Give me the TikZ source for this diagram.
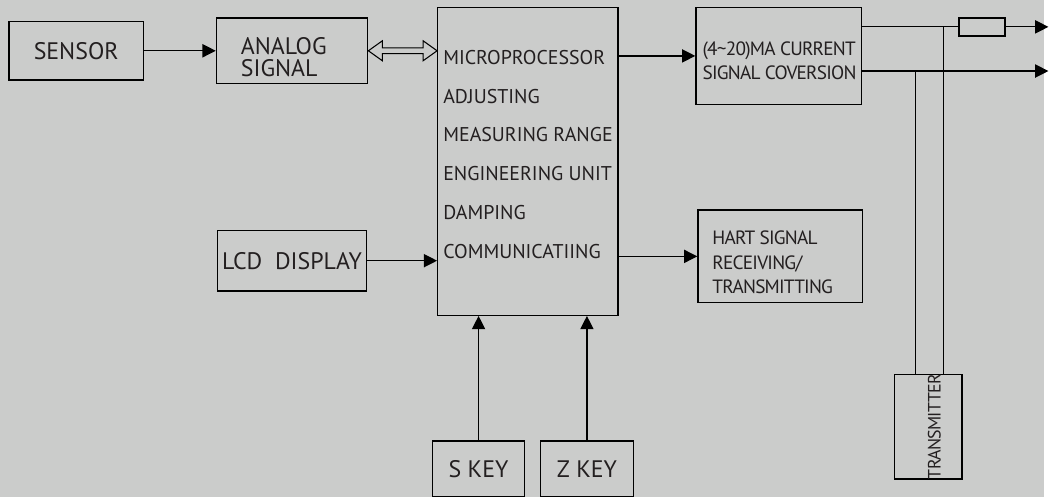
\documentclass[tikz,border=0pt]{standalone}
\usepackage{fontspec}
\setmainfont{PT Sans}
\newfontfamily\condfont[LetterSpace=-4.0]{PT Sans}
\usepackage{xcolor}
\usetikzlibrary{arrows.meta,positioning,backgrounds}
\definecolor{paper}{RGB}{203,204,203}
\definecolor{ink}{RGB}{35,31,32}

\begin{document}
\begin{tikzpicture}[
  bigtxt/.style={inner sep=0pt,text=ink,font={\fontsize{18}{16.5}\selectfont}},
  midtxt/.style={inner sep=0pt,text=ink,align=left,font={\fontsize{15}{29.25}\selectfont}},
  condtxt/.style={inner sep=0pt,text=ink,align=left,font={\condfont\fontsize{14.5}{18.6}\selectfont}},
  box/.style={rectangle,draw,line width=1pt,bigtxt},
  arrow/.style={-{Triangle[length=10pt,width=10pt]},line width=0.9pt},
  hollow/.style={line width=0.8pt,line join=miter,fill=paper},
  wire/.style={line width=0.9pt},
]
\node[box,minimum width=101.25pt,minimum height=44.25pt] (sensor) {SENSOR};
\node[box,minimum width=114pt,minimum height=49.5pt,right=54pt of sensor,
  label={[bigtxt,anchor=west,align=left,xshift=18.75pt,yshift=-4.9pt]west:{ANALOG\\SIGNAL}}] (analog) {};
\node[box,minimum width=135.75pt,minimum height=231.75pt,right=51.75pt of analog.east,anchor=north west,yshift=33pt,
  label={[midtxt,anchor=north west,xshift=4.5pt,yshift=-32.25pt]north west:{MICROPROCESSOR\\ADJUSTING\\MEASURING RANGE\\ENGINEERING UNIT\\DAMPING\\COMMUNICATIING}}] (micro) {};
\node[box,minimum width=124.5pt,minimum height=72.75pt,right=57.75pt of micro.north east,anchor=north west,
  label={[condtxt,xshift=0.75pt,yshift=-3.75pt]center:{(4\textasciitilde20)MA CURRENT\\SIGNAL COVERSION}}] (conv) {};
\node[box,minimum width=123.75pt,minimum height=69.75pt,below=78.75pt of conv.south west,anchor=north west,xshift=1.5pt,
  label={[condtxt,anchor=west,xshift=11.25pt,yshift=-4.5pt]west:{HART SIGNAL\\RECEIVING/\\TRANSMITTING}}] (hart) {};
\node[box,minimum width=112.5pt,minimum height=45.75pt,below=109.5pt of analog] (lcd) {LCD~~DISPLAY};
\node[box,minimum width=69pt,minimum height=42pt,below=93.75pt of micro.south west,anchor=north west,xshift=-3.75pt] (skey) {S KEY};
\node[box,minimum width=69.75pt,minimum height=42pt,right=11.25pt of skey] (zkey) {Z KEY};

% output loop
\coordinate (outa) at ([yshift=-15pt]conv.north east);
\coordinate (outb) at ([yshift=25.5pt]conv.south east);
\node[box,minimum width=34.5pt,minimum height=13.5pt,right=72.75pt of outa] (res) {};
\coordinate[right=32.25pt of res] (enda);
\coordinate (endb) at (enda |- outb);
\node[box,minimum width=51pt,minimum height=78.75pt,below right=202.5pt and 24pt of conv.south east,
  label={[condtxt,font={\condfont\fontsize{13.5}{16}\selectfont},xshift=4.5pt,rotate=90]center:TRANSMITTER}] (trans) {};
\coordinate (tleft) at ([xshift=16.5pt]trans.north west);
\coordinate (tright) at ([xshift=37.5pt]trans.north west);

\draw[arrow] (sensor) -- (analog);
% hollow double arrow
\coordinate (link) at (analog.east -| micro.west);
\draw[hollow] (analog.east) -- ([shift={(10.5pt,7.5pt)}]analog.east) -- ([shift={(10.5pt,2.2pt)}]analog.east)
  -- ([shift={(-10.5pt,2.2pt)}]link) -- ([shift={(-10.5pt,7.5pt)}]link) -- (link)
  -- ([shift={(-10.5pt,-7.5pt)}]link) -- ([shift={(-10.5pt,-2.2pt)}]link)
  -- ([shift={(10.5pt,-2.2pt)}]analog.east) -- ([shift={(10.5pt,-7.5pt)}]analog.east) -- cycle;
\draw[arrow] (micro.east |- conv) -- (conv);
\draw[arrow] (lcd) -- (lcd -| micro.west);
\draw[arrow] (micro.east |- hart) -- (hart);
\draw[arrow] (skey) -- (skey |- micro.south);
\draw[arrow] (zkey) -- (zkey |- micro.south);
\draw[wire] (outa) -- (res);
\draw[arrow] (res) -- (enda);
\draw[arrow] (outb) -- (endb);
\draw[wire] (tleft) -- (tleft |- outb);
\draw[wire] (tright) -- (tright |- outa);

\begin{scope}[on background layer]
\fill[paper] ([shift={(-57.375pt,38.25pt)}]sensor.center) rectangle ++(786.75pt,-374.25pt);
\end{scope}
\useasboundingbox ([shift={(-57.375pt,38.25pt)}]sensor.center) rectangle ++(786.75pt,-374.25pt);
\end{tikzpicture}
\end{document}
